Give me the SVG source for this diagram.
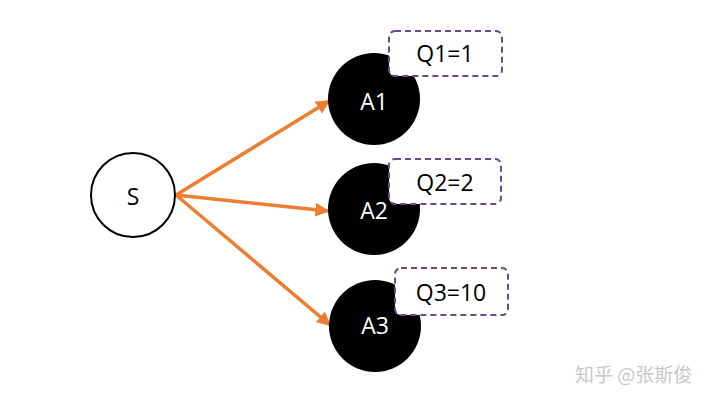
<svg xmlns="http://www.w3.org/2000/svg" width="728" height="404" viewBox="0 0 728 404">
<style>
.lbl{font-family:"Open Sans","Liberation Sans",sans-serif;font-size:23px;text-anchor:middle;dominant-baseline:central}
.box{fill:#fff;stroke:#6a4a8c;stroke-width:2;stroke-dasharray:6 4}
.edge{stroke:#ED7D31;stroke-width:3.5;fill:none;marker-end:url(#ah)}
</style>
<defs>
<marker id="ah" viewBox="0 0 10 10" refX="9" refY="5" markerWidth="4" markerHeight="4" orient="auto" markerUnits="strokeWidth">
<path d="M0,0 L10,5 L0,10 z" fill="#ED7D31"/>
</marker>
</defs>
<rect width="728" height="404" fill="#fff"/>
<g id="connectors">
<line class="edge" x1="176" y1="195" x2="329" y2="101"/>
<line class="edge" x1="176" y1="195" x2="328" y2="211"/>
<line class="edge" x1="176" y1="195" x2="330" y2="325"/>
</g>
<g id="S">
<circle cx="133" cy="195" r="42" fill="#fff" stroke="#000" stroke-width="2"/>
<text class="lbl" x="133" y="196">S</text>
</g>
<g id="A1">
<circle cx="374" cy="99" r="46" fill="#000"/>
<text class="lbl" x="374" y="101" fill="#fff">A1</text>
</g>
<g id="A2">
<circle cx="374" cy="209" r="46" fill="#000"/>
<text class="lbl" x="374" y="210" fill="#fff">A2</text>
</g>
<g id="A3">
<circle cx="375" cy="326" r="46" fill="#000"/>
<text class="lbl" x="375" y="325" fill="#fff">A3</text>
</g>
<g id="Q1">
<rect class="box" x="389" y="31" width="113" height="45" rx="6"/>
<text class="lbl" x="445" y="53" fill="#000">Q1=1</text>
</g>
<g id="Q2">
<rect class="box" x="389" y="159" width="112" height="45" rx="6"/>
<text class="lbl" x="445" y="182" fill="#000">Q2=2</text>
</g>
<g id="Q3">
<rect class="box" x="395" y="268" width="113" height="47" rx="6"/>
<text class="lbl" x="451" y="292" fill="#000">Q3=10</text>
</g>
<text x="575" y="382" font-family="'Noto Sans CJK SC',sans-serif" font-size="19" fill="#c8c8c8">知乎 @张斯俊</text>
</svg>
